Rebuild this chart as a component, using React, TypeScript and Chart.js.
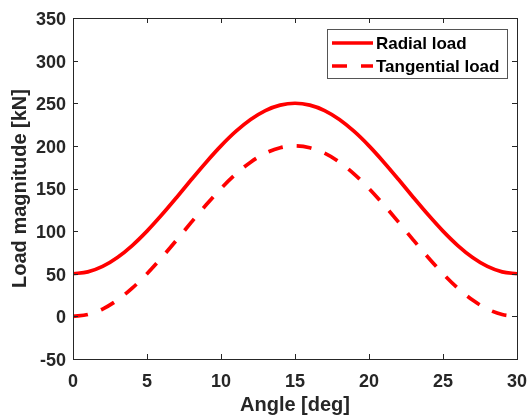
import React, { useEffect, useRef } from 'react';
import { Chart, registerables } from 'chart.js';

Chart.register(...registerables);

const angles = [0, 1, 2, 3, 4, 5, 6, 7, 8, 9, 10, 11, 12, 13, 14, 15, 16, 17, 18, 19, 20, 21, 22, 23, 24, 25, 26, 27, 28, 29, 30];
const radialLoad = [50, 52.2, 58.6, 69.1, 83.1, 100, 119.1, 139.5, 160.5, 180.9, 200, 216.9, 230.9, 241.4, 247.8, 250, 247.8, 241.4, 230.9, 216.9, 200, 180.9, 160.5, 139.5, 119.1, 100, 83.1, 69.1, 58.6, 52.2, 50];
const tangentialLoad = [0, 2.2, 8.6, 19.1, 33.1, 50, 69.1, 89.5, 110.5, 130.9, 150, 166.9, 180.9, 191.4, 197.8, 200, 197.8, 191.4, 180.9, 166.9, 150, 130.9, 110.5, 89.5, 69.1, 50, 33.1, 19.1, 8.6, 2.2, 0];
const xTicks = [0, 5, 10, 15, 20, 25, 30];
const yTicks = [-50, 0, 50, 100, 150, 200, 250, 300, 350];
const seriesLabels = ['Radial load', 'Tangential load'];
const xTitle = 'Angle [deg]';
const yTitle = 'Load magnitude [kN]';

const FONT = "'Liberation Sans', Arial, sans-serif";
const AXIS_COLOR = '#262626';
const LINE_COLOR = '#ff0000';
const DASH = [15, 14];

const boxPlugin = {
  id: 'matlabBox',
  afterDatasetsDraw(chart: any) {
    const { ctx, chartArea: a, scales } = chart;
    ctx.save();
    ctx.strokeStyle = AXIS_COLOR;
    ctx.lineWidth = 1;
    ctx.setLineDash([]);
    ctx.strokeRect(Math.round(a.left) + 0.5, Math.round(a.top) + 0.5, Math.round(a.right - a.left), Math.round(a.bottom - a.top));
    const tl = 5;
    ctx.beginPath();
    for (const v of xTicks) {
      const px = Math.round(scales.x.getPixelForValue(v)) + 0.5;
      ctx.moveTo(px, a.bottom);
      ctx.lineTo(px, a.bottom - tl);
      ctx.moveTo(px, a.top);
      ctx.lineTo(px, a.top + tl);
    }
    for (const v of yTicks) {
      const py = Math.round(scales.y.getPixelForValue(v)) + 0.5;
      ctx.moveTo(a.left, py);
      ctx.lineTo(a.left + tl, py);
      ctx.moveTo(a.right, py);
      ctx.lineTo(a.right - tl, py);
    }
    ctx.stroke();

    // legend
    const bw = 180;
    const bh = 49;
    const bx = Math.round(a.right) - 10 - bw;
    const by = Math.round(a.top) + 11;
    ctx.fillStyle = '#ffffff';
    ctx.fillRect(bx, by, bw, bh);
    ctx.strokeStyle = '#555555';
    ctx.strokeRect(bx + 0.5, by + 0.5, bw, bh);
    const rows = [by + 14, by + 37];
    chart.data.datasets.forEach((ds: any, i: number) => {
      const y = rows[i];
      ctx.strokeStyle = ds.borderColor;
      ctx.lineWidth = ds.borderWidth;
      ctx.lineCap = 'butt';
      ctx.setLineDash(ds.borderDash || []);
      ctx.beginPath();
      ctx.moveTo(bx + 5, y);
      ctx.lineTo(bx + 46, y);
      ctx.stroke();
      ctx.setLineDash([]);
      ctx.fillStyle = '#000000';
      ctx.font = `bold 17px ${FONT}`;
      ctx.textAlign = 'left';
      ctx.textBaseline = 'middle';
      ctx.fillText(ds.label, bx + 49, y + 1);
    });
    ctx.restore();
  },
};

export default function App() {
  const ref = useRef<HTMLCanvasElement>(null);
  useEffect(() => {
    document.body.style.margin = '0';
    const tickFont = { family: FONT, weight: 'bold' as const, size: 18 };
    const titleFont = { family: FONT, weight: 'bold' as const, size: 20 };
    const chart = new Chart(ref.current!, {
      type: 'line',
      data: {
        datasets: [
          {
            label: seriesLabels[0],
            data: angles.map((a, i) => ({ x: a, y: radialLoad[i] })),
            borderColor: LINE_COLOR,
            backgroundColor: LINE_COLOR,
            borderWidth: 3.7,
            pointRadius: 0,
            cubicInterpolationMode: 'monotone',
            fill: false,
          },
          {
            label: seriesLabels[1],
            data: angles.map((a, i) => ({ x: a, y: tangentialLoad[i] })),
            borderColor: LINE_COLOR,
            backgroundColor: LINE_COLOR,
            borderWidth: 3.7,
            borderDash: DASH,
            borderCapStyle: 'butt',
            pointRadius: 0,
            cubicInterpolationMode: 'monotone',
            fill: false,
          },
        ],
      },
      options: {
        responsive: false,
        animation: false,
        layout: { padding: { top: 18, right: 11, left: 0, bottom: 0 } },
        plugins: { legend: { display: false }, tooltip: { enabled: false } },
        scales: {
          x: {
            type: 'linear',
            min: 0,
            max: 30,
            afterBuildTicks: (s: any) => {
              s.ticks = xTicks.map((v) => ({ value: v }));
            },
            afterFit: (s: any) => {
              s.height = 60;
              s.paddingLeft = 0;
              s.paddingRight = 0;
            },
            grid: { display: false, drawTicks: false, tickLength: 0 },
            border: { display: false },
            ticks: { font: tickFont, color: AXIS_COLOR, padding: 12, maxRotation: 0, autoSkip: false },
            title: { display: true, text: xTitle, font: titleFont, color: AXIS_COLOR, padding: { top: 0, bottom: 2 } },
          },
          y: {
            type: 'linear',
            min: -50,
            max: 350,
            afterBuildTicks: (s: any) => {
              s.ticks = yTicks.map((v) => ({ value: v }));
            },
            afterFit: (s: any) => {
              s.width = 73;
              s.paddingTop = 0;
              s.paddingBottom = 0;
            },
            grid: { display: false, drawTicks: false, tickLength: 0 },
            border: { display: false },
            ticks: { font: tickFont, color: AXIS_COLOR, padding: 7, labelOffset: 2, autoSkip: false },
            title: { display: true, text: yTitle, font: titleFont, color: AXIS_COLOR, padding: { top: 8, bottom: 0 } },
          },
        },
      },
      plugins: [boxPlugin],
    });
    return () => chart.destroy();
  }, []);
  return (
    <div style={{ position: 'fixed', left: 0, top: 0, width: 528, height: 419, background: '#ffffff' }}>
      <canvas ref={ref} width={528} height={419} style={{ width: 528, height: 419, display: 'block' }} />
    </div>
  );
}
